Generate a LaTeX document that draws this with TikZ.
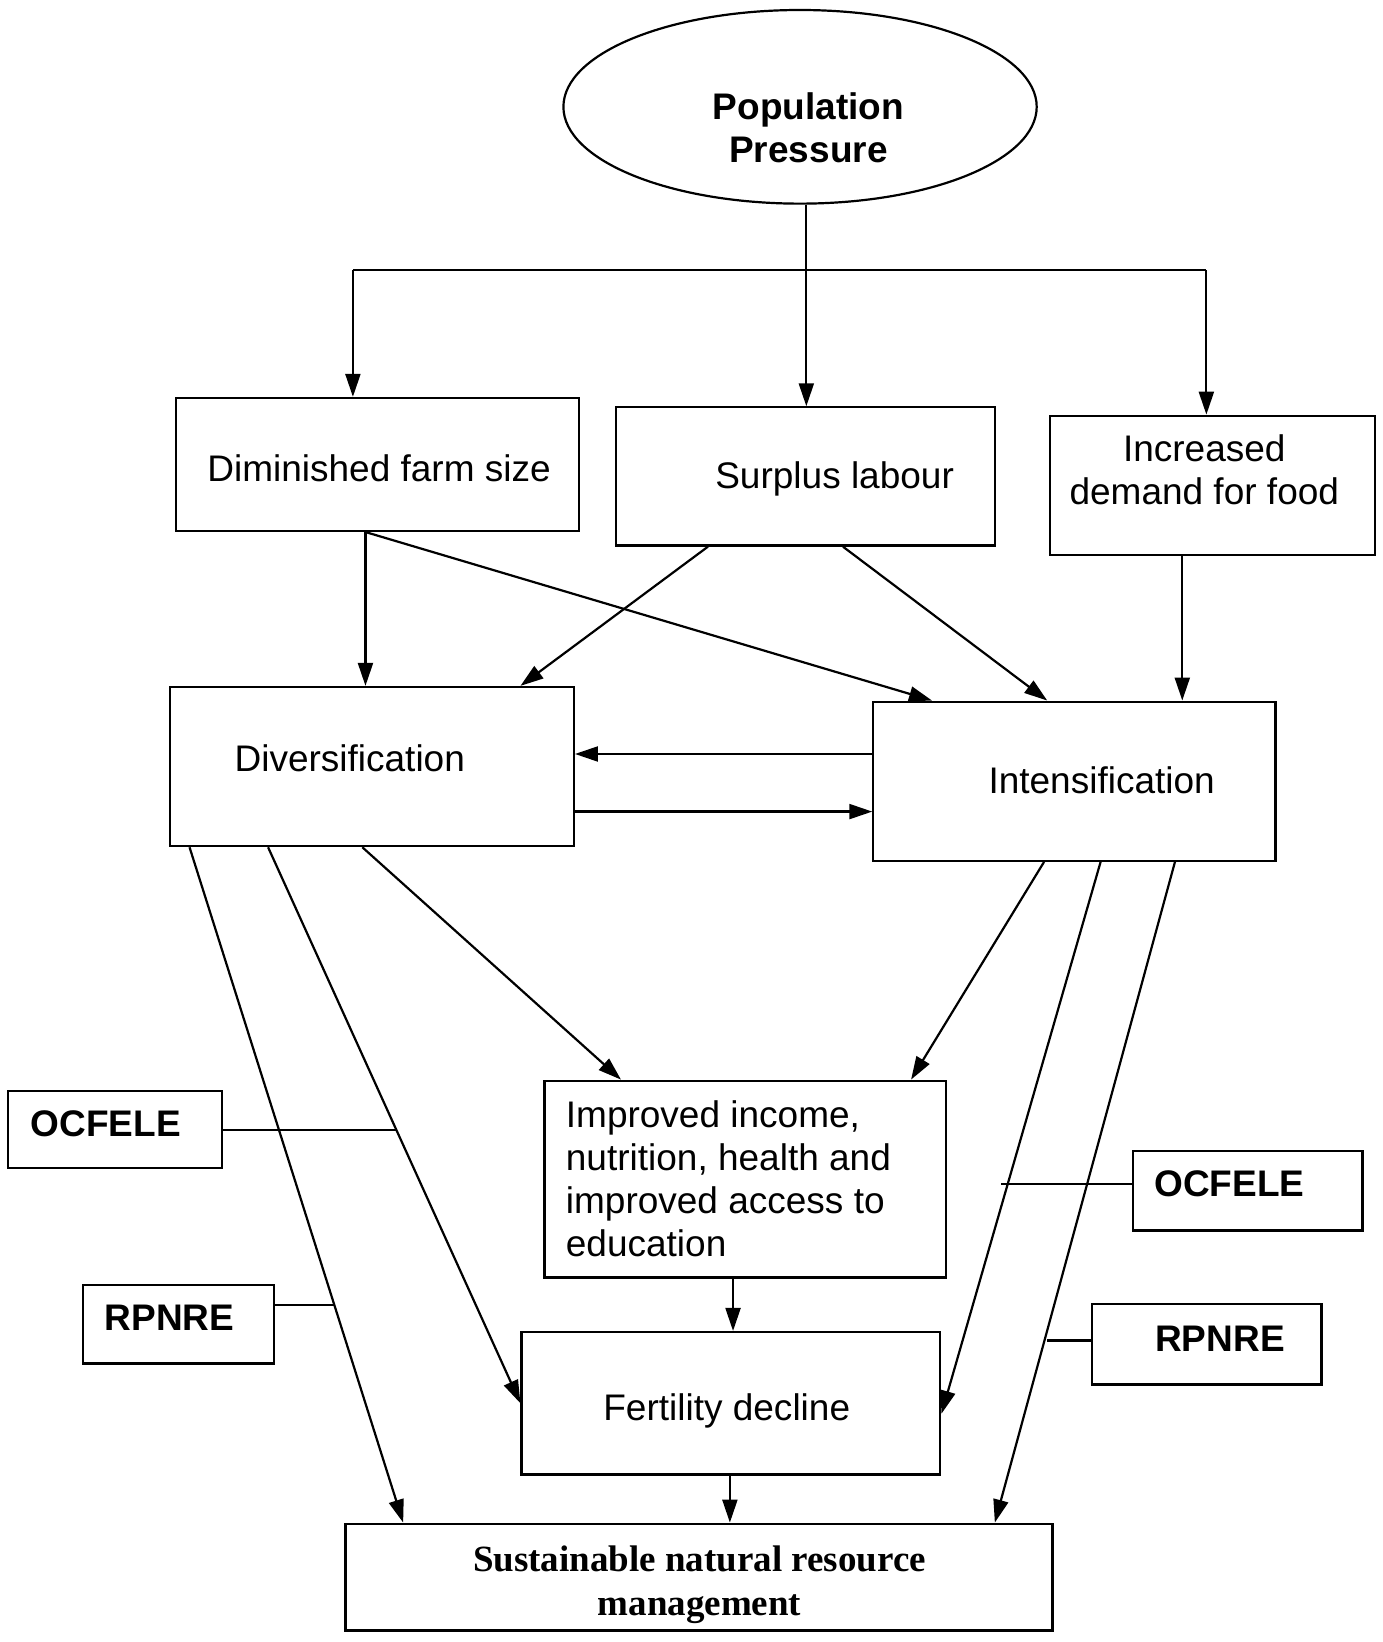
\documentclass[tikz,border=0pt]{standalone}
\usepackage{fontspec}
\setmainfont{Liberation Sans}
\newfontfamily\serifbf{Liberation Serif}
\usetikzlibrary{arrows.meta,fit,shapes.geometric}
\tikzset{
  box/.style={draw, line width=1.1pt, inner sep=0pt},
  lbl/.style={font=\fontsize{18.5}{21.5}\selectfont, align=center, inner sep=0pt},
  blbl/.style={font=\fontsize{18.5}{21.5}\selectfont\bfseries, align=center, inner sep=0pt},
  arr/.style={line width=1.1pt, -{Triangle[length=11.5pt,width=7.5pt]}},
  ln/.style={line width=1.1pt}
}
\begin{document}
\begin{tikzpicture}[x=0.5235pt,y=-0.5235pt]
\useasboundingbox (0,0) rectangle (1320,1568);
% ellipse
\node[draw, ellipse, line width=1.1pt, inner sep=0pt, minimum width=236.6pt, minimum height=96.8pt] (pp) at (764,102) {};
\node[blbl] (ppt) at (772,122) {Population\\Pressure};
% boxes
\node[box, fit={(168,380) (553,507)}] (dim) {};
\node[box, fit={(588,389) (950,521)}] (sur) {};
\node[box, fit={(1003,397) (1313,530)}] (inc) {};
\node[box, fit={(162,656) (548,808)}] (div) {};
\node[box, fit={(834,670) (1218,822)}] (int) {};
\node[box, fit={(520,1032) (903,1220)}] (imp) {};
\node[box, fit={(498,1272) (898,1408)}] (fert) {};
\node[box, fit={(330,1455) (1005,1557)}] (sus) {};
\node[box, fit={(8,1042) (212,1115)}] (ocl) {};
\node[box, fit={(79,1227) (262,1302)}] (rpl) {};
\node[box, fit={(1082,1099) (1301,1175)}] (ocr) {};
\node[box, fit={(1043,1245) (1262,1322)}] (rpr) {};
% texts
\node[lbl] (dimt) at (362,447) {Diminished farm size};
\node[lbl] (surt) at (797,457) {Surplus labour};
\node[lbl] (inct) at (1150,449) {Increased\\demand for food};
\node[lbl] (divt) at (334,724) {Diversification};
\node[lbl] (intt) at (1052,745) {Intensification};
\node[lbl, align=left, anchor=west] (impt) at (540,1126) {Improved income,\\nutrition, health and\\improved access to\\education};
\node[lbl] (fertt) at (694,1347) {Fertility decline};
\node[inner sep=0pt, align=center, font=\serifbf\bfseries\fontsize{18.5}{22}\selectfont] (sust) at (668,1513) {Sustainable natural resource\\management};
\node[blbl] (oclt) at (101,1073) {OCFELE};
\node[blbl] (rplt) at (162,1258) {RPNRE};
\node[blbl] (ocrt) at (1174,1130) {OCFELE};
\node[blbl] (rprt) at (1165,1278) {RPNRE};
% top distribution
\coordinate (jl) at (337,258);
\coordinate (jr) at (1152,258);
\draw[ln] (jl) -- (jr);
\draw[arr] (jl) -- (jl |- dim.north);
\draw[arr] (jr) -- (jr |- inc.north);
\draw[arr] (pp.south -| 770,0) -- (sur.north -| 770,0);
% second level
\draw[arr] (dim.south -| 349,0) -- (div.north -| 349,0);
\draw[arr] (dim.south -| 349,0) -- (int.north -| 890,0);
\draw[arr] (sur.south -| 676,0) -- (div.north -| 497,0);
\draw[arr] (sur.south -| 805,0) -- (int.north -| 1000,0);
\draw[arr] (inc.south -| 1129,0) -- (int.north -| 1129,0);
% between div and int
\draw[arr] (int.west |- 0,720) -- (div.east |- 0,720);
\draw[arr] (div.east |- 0,775) -- (int.west |- 0,775);
% lower
\draw[arr] (div.south -| 181,0) -- (sus.north -| 385,0);
\draw[arr] (div.south -| 256,0) -- (fert.west |- 0,1340);
\draw[arr] (div.south -| 346,0) -- (imp.north -| 593,0);
\draw[arr] (int.south -| 997,0) -- (imp.north -| 870,0);
\draw[arr] (int.south -| 1051,0) -- (fert.east |- 0,1350);
\draw[arr] (int.south -| 1122,0) -- (sus.north -| 950,0);
\draw[arr] (imp.south -| 700,0) -- (fert.north -| 700,0);
\draw[arr] (fert.south -| 697,0) -- (sus.north -| 697,0);
% side labels
\coordinate (oclend) at (379,1079);
\coordinate (rplend) at (320,1246);
\coordinate (ocrend) at (956,1131);
\coordinate (rprend) at (1000,1280);
\draw[ln] (ocl.east |- oclend) -- (oclend);
\draw[ln] (rpl.east |- rplend) -- (rplend);
\draw[ln] (ocr.west |- ocrend) -- (ocrend);
\draw[ln] (rpr.west |- rprend) -- (rprend);
\end{tikzpicture}
\end{document}
